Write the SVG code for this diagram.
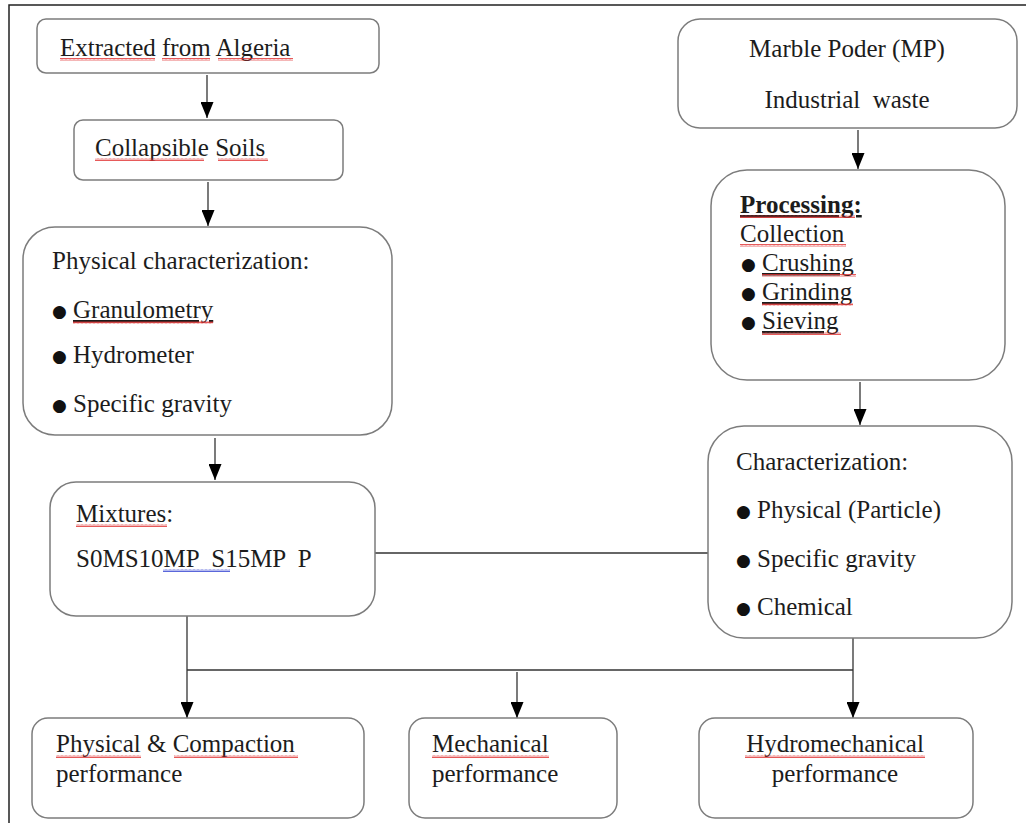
<svg xmlns="http://www.w3.org/2000/svg" width="1026" height="823" viewBox="0 0 1026 823">
<style>
.box{fill:#fff;stroke:#7c7c7c;stroke-width:1.5}
.t{font-family:"Liberation Serif","Times New Roman",serif;font-size:25px;fill:#1c1c1c}
.b{font-family:"DejaVu Sans",sans-serif;font-size:17px;fill:#111}
.c{stroke:#333;stroke-width:1.3;fill:none}
.u{text-decoration:underline}
.red{fill:url(#wavyR)}
.blue{fill:url(#wavyB)}
</style>
<defs>
<marker id="arr" markerWidth="16" markerHeight="13" refX="16" refY="6.5" orient="auto" markerUnits="userSpaceOnUse" viewBox="0 0 16 13">
<path d="M0 0 L16 6.5 L0 13 Z" fill="#000"/>
</marker>
<pattern id="wavyR" width="4" height="3" patternUnits="userSpaceOnUse">
<path d="M0 2.5 L1 0.5 L2 2.5 L3 0.5 L4 2.5" stroke="#e03030" stroke-width="0.8" fill="none"/>
</pattern>
<pattern id="wavyB" width="4" height="3" patternUnits="userSpaceOnUse">
<path d="M0 2.5 L1 0.5 L2 2.5 L3 0.5 L4 2.5" stroke="#3040d0" stroke-width="0.8" fill="none"/>
</pattern>
</defs>
<rect x="0" y="0" width="1026" height="823" fill="#fff"/>
<path d="M9 823 L9 5 L1026 5" stroke="#222" stroke-width="1.5" fill="none"/>

<g id="connectors">
<line class="c" x1="207" y1="75" x2="207" y2="118" marker-end="url(#arr)"/>
<line class="c" x1="208" y1="182" x2="208" y2="226" marker-end="url(#arr)"/>
<line class="c" x1="215" y1="438" x2="215" y2="480" marker-end="url(#arr)"/>
<line class="c" x1="858" y1="130" x2="858" y2="169" marker-end="url(#arr)"/>
<line class="c" x1="860" y1="382" x2="860" y2="425" marker-end="url(#arr)"/>
<line class="c" x1="375" y1="553" x2="708" y2="553"/>
<line class="c" x1="187" y1="616" x2="187" y2="718" marker-end="url(#arr)"/>
<line class="c" x1="187" y1="670" x2="853" y2="670"/>
<line class="c" x1="853" y1="638" x2="853" y2="718" marker-end="url(#arr)"/>
<line class="c" x1="517" y1="672" x2="517" y2="718" marker-end="url(#arr)"/>
</g>

<g id="n-algeria">
<rect class="box" x="37" y="19" width="342" height="54" rx="9"/>
<text class="t" x="60" y="56">Extracted from Algeria</text>
<rect class="red" x="60" y="58" width="95" height="3"/>
<rect class="red" x="162" y="58" width="48" height="3"/>
<rect class="red" x="218" y="58" width="75" height="3"/>
</g>

<g id="n-soils">
<rect class="box" x="74" y="120" width="269" height="60" rx="9"/>
<text class="t" x="95" y="156">Collapsible Soils</text>
<rect class="red" x="95" y="158" width="109" height="3"/>
<rect class="red" x="218" y="158" width="50" height="3"/>
</g>

<g id="n-physchar">
<rect class="box" x="23" y="227" width="369" height="208" rx="32"/>
<text class="t" x="52" y="269">Physical characterization:</text>
<text class="b" x="52" y="317">●</text>
<text class="t u" x="73" y="318">Granulometry</text>
<rect class="red" x="73" y="321" width="140" height="3"/>
<text class="b" x="52" y="362">●</text>
<text class="t" x="73" y="363">Hydrometer</text>
<text class="b" x="52" y="411">●</text>
<text class="t" x="73" y="412">Specific gravity</text>
</g>

<g id="n-mixtures">
<rect class="box" x="50" y="482" width="325" height="134" rx="26"/>
<text class="t" x="76" y="522">Mixtures:</text>
<rect class="red" x="76" y="524" width="91" height="3"/>
<text class="t" x="76" y="567" xml:space="preserve">S0MS10MP  S15MP  P</text>
<rect class="blue" x="163" y="569" width="67" height="3"/>
</g>

<g id="n-marble">
<rect class="box" x="678" y="19" width="339" height="109" rx="22"/>
<text class="t" x="847" y="57" text-anchor="middle">Marble Poder (MP)</text>
<text class="t" x="847" y="108" text-anchor="middle" xml:space="preserve">Industrial  waste</text>
</g>

<g id="n-processing">
<rect class="box" x="711" y="170" width="294" height="210" rx="36"/>
<text class="t u" x="740" y="213" font-weight="bold">Processing:</text>
<rect class="red" x="740" y="215" width="115" height="3"/>
<text class="t" x="740" y="242">Collection</text>
<rect class="red" x="740" y="244" width="106" height="3"/>
<text class="b" x="741" y="270">●</text>
<text class="t u" x="762" y="271">Crushing</text>
<rect class="red" x="762" y="274" width="94" height="3"/>
<text class="b" x="741" y="299">●</text>
<text class="t u" x="762" y="300">Grinding</text>
<rect class="red" x="762" y="303" width="91" height="3"/>
<text class="b" x="741" y="328">●</text>
<text class="t u" x="762" y="329">Sieving</text>
<rect class="red" x="762" y="332" width="79" height="3"/>
</g>

<g id="n-char">
<rect class="box" x="708" y="426" width="304" height="212" rx="36"/>
<text class="t" x="736" y="470">Characterization:</text>
<text class="b" x="736" y="517">●</text>
<text class="t" x="757" y="518">Physical (Particle)</text>
<text class="b" x="736" y="566">●</text>
<text class="t" x="757" y="567">Specific gravity</text>
<text class="b" x="736" y="614">●</text>
<text class="t" x="757" y="615">Chemical</text>
</g>

<g id="n-physperf">
<rect class="box" x="32" y="718" width="332" height="100" rx="16"/>
<text class="t" x="56" y="752">Physical &amp; Compaction</text>
<rect class="red" x="56" y="755" width="85" height="3"/>
<rect class="red" x="174" y="755" width="124" height="3"/>
<text class="t" x="56" y="782">performance</text>
</g>

<g id="n-mech">
<rect class="box" x="409" y="718" width="208" height="100" rx="16"/>
<text class="t" x="432" y="752">Mechanical</text>
<rect class="red" x="432" y="755" width="117" height="3"/>
<text class="t" x="432" y="782">performance</text>
</g>

<g id="n-hydro">
<rect class="box" x="699" y="718" width="274" height="100" rx="16"/>
<text class="t" x="835" y="752" text-anchor="middle">Hydromechanical</text>
<rect class="red" x="745" y="755" width="180" height="3"/>
<text class="t" x="835" y="782" text-anchor="middle">performance</text>
</g>
</svg>
